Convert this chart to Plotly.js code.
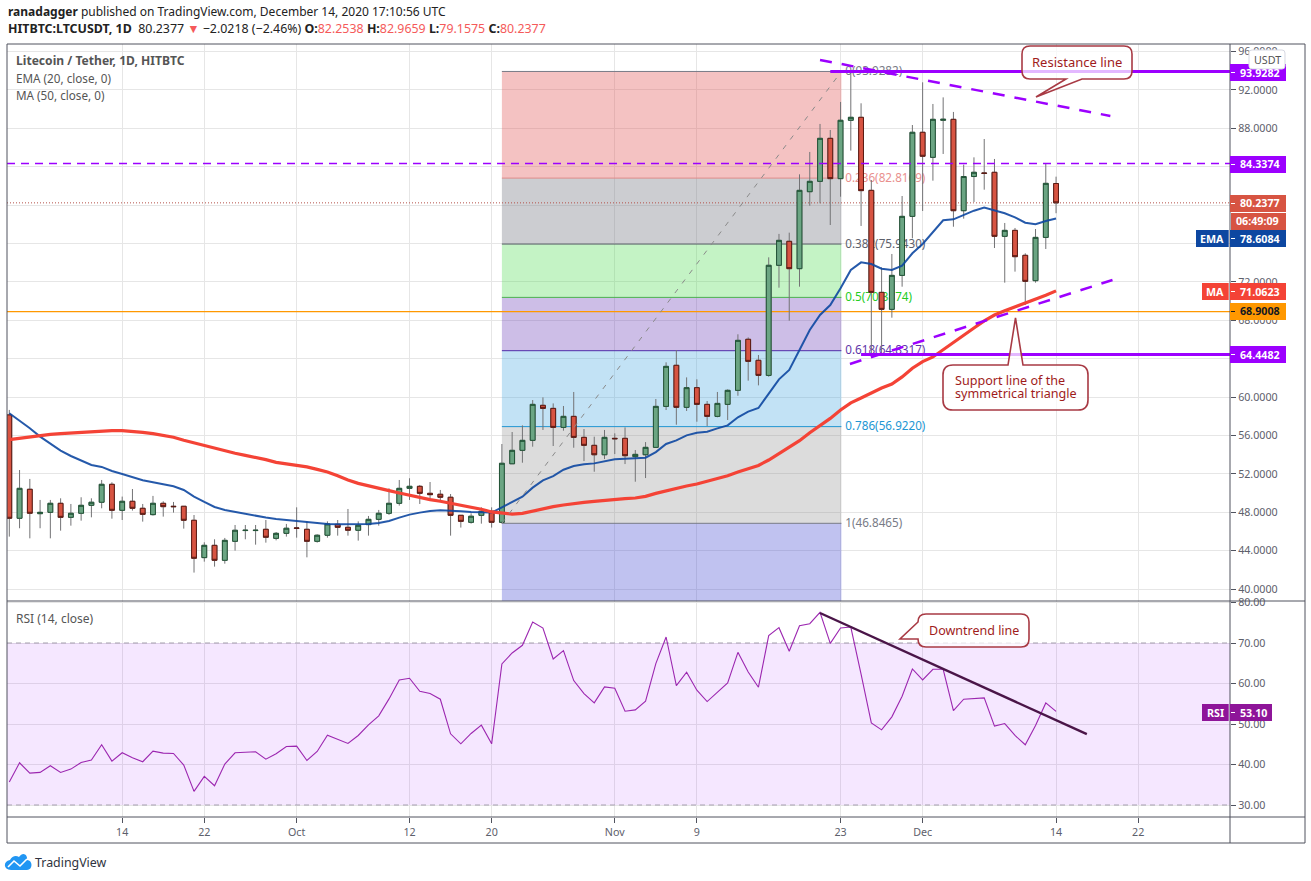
<!DOCTYPE html>
<html>
<head>
<meta charset="utf-8">
<script src="https://cdn.plot.ly/plotly-3.0.1.min.js"></script>
<style>html,body{margin:0;padding:0;background:#fff}#chart{width:1311px;height:881px}</style>
</head>
<body>
<div id="chart"></div>
<script>
const dates = ["2020-09-03","2020-09-04","2020-09-05","2020-09-06","2020-09-07","2020-09-08","2020-09-09","2020-09-10","2020-09-11","2020-09-12","2020-09-13","2020-09-14","2020-09-15","2020-09-16","2020-09-17","2020-09-18","2020-09-19","2020-09-20","2020-09-21","2020-09-22","2020-09-23","2020-09-24","2020-09-25","2020-09-26","2020-09-27","2020-09-28","2020-09-29","2020-09-30","2020-10-01","2020-10-02","2020-10-03","2020-10-04","2020-10-05","2020-10-06","2020-10-07","2020-10-08","2020-10-09","2020-10-10","2020-10-11","2020-10-12","2020-10-13","2020-10-14","2020-10-15","2020-10-16","2020-10-17","2020-10-18","2020-10-19","2020-10-20","2020-10-21","2020-10-22","2020-10-23","2020-10-24","2020-10-25","2020-10-26","2020-10-27","2020-10-28","2020-10-29","2020-10-30","2020-10-31","2020-11-01","2020-11-02","2020-11-03","2020-11-04","2020-11-05","2020-11-06","2020-11-07","2020-11-08","2020-11-09","2020-11-10","2020-11-11","2020-11-12","2020-11-13","2020-11-14","2020-11-15","2020-11-16","2020-11-17","2020-11-18","2020-11-19","2020-11-20","2020-11-21","2020-11-22","2020-11-23","2020-11-24","2020-11-25","2020-11-26","2020-11-27","2020-11-28","2020-11-29","2020-11-30","2020-12-01","2020-12-02","2020-12-03","2020-12-04","2020-12-05","2020-12-06","2020-12-07","2020-12-08","2020-12-09","2020-12-10","2020-12-11","2020-12-12","2020-12-13","2020-12-14"];
const opens = [58.14,47.37,50.39,47.85,47.99,48.93,47.47,47.89,48.72,49.04,50.91,48.20,49.14,48.41,47.75,48.93,48.62,48.62,47.16,43.27,44.55,42.99,44.97,46.09,46.09,46.22,45.28,45.80,46.36,46.22,44.97,45.60,46.74,46.43,46.12,46.71,47.26,47.89,48.93,50.49,50.70,49.97,49.87,49.56,47.68,46.95,47.68,48.10,46.95,53.05,54.45,55.49,59.14,58.82,56.84,57.99,55.80,54.97,53.99,55.70,55.70,53.79,53.99,54.76,59.03,63.31,58.93,60.98,59.24,57.99,59.24,60.70,66.02,63.83,62.26,73.73,76.23,73.38,81.40,82.48,86.96,82.76,88.84,89.15,81.54,70.91,69.14,72.68,78.83,87.59,84.98,88.84,88.94,79.42,82.98,83.35,83.42,76.75,77.37,74.77,72.13,76.64,82.2538];
const highs = [58.66,52.40,51.47,49.28,49.28,49.45,48.86,49.56,49.45,51.36,51.12,49.63,50.42,48.86,49.70,49.14,49.07,48.62,47.71,44.87,45.18,45.32,46.67,46.67,46.67,47.19,45.94,46.78,48.51,47.05,45.70,47.05,47.19,48.34,47.05,47.61,48.24,50.49,51.36,51.54,50.84,51.15,50.32,49.90,47.68,47.89,48.51,48.51,55.11,56.36,57.05,59.69,59.97,59.34,59.07,60.53,56.67,55.87,56.57,56.22,56.84,54.48,55.31,59.80,63.62,64.90,62.05,61.85,59.59,60.53,60.80,66.54,66.22,64.38,74.56,77.00,77.13,83.21,85.54,88.46,87.83,90.75,93.90,90.61,82.62,73.52,74.91,80.95,88.35,92.80,90.54,91.23,89.71,84.22,84.98,86.89,84.81,78.14,77.62,74.98,77.51,84.36,82.9659];
const lows = [45.46,46.33,45.28,46.33,45.28,46.08,46.60,47.12,47.47,48.41,47.33,47.19,48.17,47.02,47.65,47.54,47.96,46.29,41.71,42.85,42.33,42.64,44.00,45.18,44.62,44.83,45.07,45.46,45.35,43.30,44.83,45.35,45.56,45.56,45.04,45.56,46.60,47.72,48.69,49.28,48.86,49.21,49.07,45.56,46.40,46.81,46.81,46.40,46.85,53.05,53.16,54.83,56.57,54.90,56.50,54.72,53.33,52.22,53.54,54.06,53.02,51.18,51.56,54.72,58.65,57.12,58.55,57.43,56.98,57.89,57.61,60.14,61.71,61.22,62.12,71.40,67.96,71.50,79.94,80.19,77.93,80.88,85.68,77.83,64.30,64.45,68.27,71.50,76.54,79.39,82.55,85.33,77.75,78.59,80.33,81.61,75.53,71.92,73.07,69.59,71.92,75.43,79.1575];
const closes = [47.37,50.49,47.89,47.99,48.93,47.47,47.89,48.72,49.04,50.91,48.20,49.14,48.41,47.78,48.93,48.58,48.58,47.16,43.20,44.55,42.99,45.07,46.12,46.12,46.12,45.39,45.80,46.33,46.33,44.97,45.60,46.78,46.43,46.12,46.64,47.26,47.89,48.93,50.49,50.70,49.97,49.83,49.56,47.68,47.05,47.58,48.10,46.95,53.10,54.45,55.49,59.24,58.82,56.84,57.99,55.80,54.97,53.99,55.80,55.66,53.89,54.03,54.76,59.03,63.20,58.93,60.98,59.24,57.99,59.34,60.70,65.91,63.72,62.26,73.73,76.33,73.38,81.54,82.48,86.96,82.76,88.84,89.15,81.51,70.91,69.14,72.68,78.83,87.59,85.09,88.94,88.94,79.42,82.98,83.42,83.31,76.75,77.37,74.63,72.06,76.64,82.27,80.2377];
const ema20 = [58.31,57.55,56.75,55.88,55.11,54.42,53.86,53.38,52.93,52.72,52.30,51.99,51.64,51.33,51.12,50.91,50.70,50.32,49.63,49.07,48.55,48.24,48.03,47.85,47.65,47.44,47.30,47.19,47.12,46.95,46.85,46.78,46.74,46.74,46.74,46.78,46.88,47.09,47.44,47.75,47.96,48.13,48.20,48.17,48.10,48.03,47.99,47.96,48.50,49.06,49.62,50.56,51.32,51.77,52.43,52.81,52.99,53.09,53.30,53.51,53.58,53.61,53.68,54.27,55.11,55.49,56.01,56.29,56.39,56.74,57.05,57.89,58.48,58.86,60.39,61.85,62.82,64.90,66.99,68.55,69.59,71.33,73.24,74.04,73.86,73.38,73.24,73.69,74.98,75.95,77.24,78.42,78.52,78.97,79.42,79.74,79.42,79.15,78.73,78.17,78.00,78.35,78.6084];
const ma50 = [55.57,55.71,55.84,56.02,56.12,56.19,56.26,56.33,56.40,56.50,56.50,56.50,56.43,56.33,56.19,56.02,55.81,55.50,55.22,54.94,54.66,54.38,54.14,53.93,53.72,53.48,53.20,53.06,52.93,52.72,52.47,52.20,51.81,51.36,51.01,50.74,50.46,50.25,50.01,49.76,49.49,49.31,49.14,48.93,48.76,48.58,48.31,48.03,47.90,47.80,47.88,48.12,48.37,48.58,48.75,48.92,49.03,49.13,49.24,49.34,49.41,49.48,49.65,49.96,50.24,50.49,50.73,50.94,51.22,51.46,51.81,52.19,52.54,52.88,53.44,54.10,54.72,55.45,56.29,57.02,57.78,58.65,59.40,59.90,60.43,60.95,61.36,62.10,63.00,63.70,64.18,64.96,65.74,66.47,67.20,67.93,68.55,69.00,69.39,69.75,70.20,70.60,71.0623];
const rsi = [35.67,40.43,37.88,38.05,39.69,38.05,38.87,40.51,41.09,44.87,40.84,42.90,41.66,40.68,43.31,42.81,42.73,39.86,33.37,37.06,34.76,40.10,42.90,42.98,43.14,41.33,42.65,44.46,44.54,41.00,43.22,47.25,46.18,45.19,47.17,49.79,52.01,56.20,60.88,61.29,58.09,57.52,56.12,47.58,45.11,47.66,49.71,45.11,64.83,67.54,69.43,75.17,73.70,66.06,68.11,60.72,57.52,55.22,59.16,58.83,53.16,53.49,55.63,64.91,71.48,59.49,62.77,58.34,55.54,57.84,60.14,67.70,62.85,59.08,71.81,73.78,67.95,74.27,74.76,77.56,69.92,73.70,73.94,62.30,50.29,48.56,51.77,56.86,63.59,60.88,63.51,63.51,53.33,56.12,56.37,56.45,49.47,50.12,47.17,44.87,49.63,55.20,53.10];

const priceTicks = [40,44,48,52,56,60,64,68,72,76,80,84,88,92,96];
const priceTickText = ["40.0000","44.0000","48.0000","52.0000","56.0000","60.0000","","68.0000","72.0000","","","","88.0000","92.0000","96.0000"];
const rsiTicks = [30,40,50,60,70,80];
const rsiTickText = ["30.00","40.00","50.00","60.00","70.00","80.00"];
const timeTickVals = ["2020-09-14","2020-09-22","2020-10-01","2020-10-12","2020-10-20","2020-11-01","2020-11-09","2020-11-23","2020-12-01","2020-12-14","2020-12-22"];
const timeTickText = ["14","22","Oct","12","20","Nov","9","23","Dec","14","22"];
const xRange = ["2020-09-02 18:37","2020-12-30 22:48"];
const priceRange = [38.75,96.79];
const rsiRange = [27.04,80.37];

const fibRatios = ["0","0.236","0.382","0.5","0.618","0.786","1"];
const fibValues = [93.9282,82.8169,75.9430,70.3874,64.8317,56.9220,46.8465];
const fibLines = ["#787b86","#e08c8a","#5d606b","#4caf50","#512da8","#2196d3","#787b86"];
const fibText = ["#787b86","#e9908e","#5d606b","#22cc22","#5e35a8","#2196d3","#787b86"];
const fibFills = ["rgba(224,80,80,.35)","rgba(120,123,134,.38)","rgba(76,220,80,.33)","rgba(104,58,183,.33)","rgba(66,165,224,.32)","rgba(130,130,130,.28)","rgba(63,70,210,.33)"];
const fibDates = ["2020-10-21","2020-11-23 02:00"];
const fibLabelDates = ["2020-11-23 11:00","2020-12-05"];

const resistanceDates = ["2020-11-21","2020-12-19 07:00"];
const resistanceVals = [95.13,89.29];
const supportDates = ["2020-11-23 22:00","2020-12-19 12:00"];
const supportVals = [63.45,72.2];
const downDates = ["2020-11-21","2020-12-17"];
const downVals = [77.4,47.5];
const level94Dates = ["2020-11-22",xRange[1]];
const level64Dates = ["2020-11-25",xRange[1]];
const level94 = 93.9282, level64 = 64.4482, level84 = 84.3374, level69 = 68.9008, lastClose = 80.2377;

const PL=7, PR=1230, PT=44, PB=817, SEP=601;
const px = x => (x-PL)/(PR-PL);
const py = y => (PB-y)/(PB-PT);
function P(str){ // path given in page pixels
  let isX=true;
  return str.trim().split(/\s+/).map(t=>{
    if(/^[A-Za-z]$/.test(t)){isX=true;return t;}
    const v=isX?px(+t):py(+t); isX=!isX; return v.toFixed(5);
  }).join(' ');
}
const FONT='"Noto Sans", sans-serif';
const TXT='#555';
const hid={hoverinfo:'skip',showlegend:false};

const bodyHigh = opens.map((o,i)=>Math.max(o,closes[i]));
const bodyLow = opens.map((o,i)=>Math.min(o,closes[i]));
const traces = [
  {type:'candlestick',x:dates,open:opens,high:highs,low:lows,close:closes,xaxis:'x',yaxis:'y',whiskerwidth:0,
   increasing:{line:{color:'#737375',width:1},fillcolor:'rgba(0,0,0,0)'},decreasing:{line:{color:'#737375',width:1},fillcolor:'rgba(0,0,0,0)'},...hid},
  {type:'candlestick',x:dates,open:opens,high:bodyHigh,low:bodyLow,close:closes,xaxis:'x',yaxis:'y',whiskerwidth:0,
   increasing:{line:{color:'#225437',width:1},fillcolor:'#6ba583'},decreasing:{line:{color:'#5b1a13',width:1},fillcolor:'#d75442'},...hid},
  {type:'scatter',mode:'lines',x:dates,y:ema20,xaxis:'x',yaxis:'y',line:{color:'#0d47a1',width:2},opacity:.9,...hid},
  {type:'scatter',mode:'lines',x:dates,y:ma50,xaxis:'x',yaxis:'y',line:{color:'#f44336',width:3.2},...hid},
  {type:'scatter',mode:'lines',x:fibDates,y:[fibValues[6],fibValues[0]],xaxis:'x',yaxis:'y',line:{color:'#8a8a8a',width:1,dash:'5px,7px'},...hid},
  {type:'scatter',mode:'lines',x:xRange,y:[level84,level84],xaxis:'x',yaxis:'y',line:{color:'#9c00ff',width:1.4,dash:'8px,6px'},...hid},
  {type:'scatter',mode:'lines',x:level94Dates,y:[level94,level94],xaxis:'x',yaxis:'y',line:{color:'#9c00ff',width:3},...hid},
  {type:'scatter',mode:'lines',x:level64Dates,y:[level64,level64],xaxis:'x',yaxis:'y',line:{color:'#9c00ff',width:3},...hid},
  {type:'scatter',mode:'lines',x:resistanceDates,y:resistanceVals,xaxis:'x',yaxis:'y',line:{color:'#9c00ff',width:2.5,dash:'12px,10px'},...hid},
  {type:'scatter',mode:'lines',x:supportDates,y:supportVals,xaxis:'x',yaxis:'y',line:{color:'#9c00ff',width:2.5,dash:'12px,10px'},...hid},
  {type:'scatter',mode:'lines',x:dates,y:rsi,xaxis:'x',yaxis:'y2',line:{color:'#9c27b0',width:1.1},...hid},
  {type:'scatter',mode:'lines',x:downDates,y:downVals,xaxis:'x',yaxis:'y2',line:{color:'#4a1548',width:2.4},...hid},
];

const shapes=[];
// fib zones
fibFills.forEach((c,i)=>{
  shapes.push({type:'rect',layer:'between',xref:'x',yref:'y',x0:fibDates[0],x1:fibDates[1],
    y0:i<6?fibValues[i+1]:priceRange[0],y1:fibValues[i],fillcolor:c,line:{width:0}});
});
fibValues.forEach((v,i)=>{
  shapes.push({type:'line',layer:'between',xref:'x',yref:'y',x0:fibDates[0],x1:fibDates[1],y0:v,y1:v,line:{color:fibLines[i],width:1}});
  shapes.push({type:'line',layer:'between',xref:'x',yref:'y',x0:fibLabelDates[0],x1:fibLabelDates[1],y0:v,y1:v,line:{color:'rgba(0,0,0,0)',width:0},
    label:{text:fibRatios[i]+'('+v.toFixed(4)+')',textposition:'start',xanchor:'left',yanchor:'middle',padding:3,font:{family:FONT,size:11.7,color:fibText[i]}}});
});
shapes.push({type:'line',layer:'between',xref:'x',yref:'y',x0:xRange[0],x1:xRange[1],y0:lastClose,y1:lastClose,line:{color:'#b5524a',width:1,dash:'1px,2px'}});
shapes.push({type:'line',layer:'between',xref:'x',yref:'y',x0:xRange[0],x1:xRange[1],y0:level69,y1:level69,line:{color:'#ff9800',width:1.2}});
// RSI band
shapes.push({type:'rect',layer:'between',xref:'x',yref:'y2',x0:xRange[0],x1:xRange[1],y0:30,y1:70,fillcolor:'rgba(153,21,255,.1)',line:{width:0}});
[30,70].forEach(v=>shapes.push({type:'line',layer:'between',xref:'x',yref:'y2',x0:xRange[0],x1:xRange[1],y0:v,y1:v,line:{color:'#a59fae',width:1,dash:'5px,4px'}}));

// frame
const frame='#50535e';
[[PL,44,1305,44],[PL,SEP,1305,SEP],[PL,PB,1305,PB],[PL,843,1305,843],[PL,44,PL,843],[PR,44,PR,843],[1305,44,1305,843]].forEach(a=>{
  shapes.push({type:'line',layer:'above',xref:'paper',yref:'paper',x0:px(a[0]),x1:px(a[2]),y0:py(a[1]),y1:py(a[3]),line:{color:frame,width:1}});
});
// callouts
const calloutLine={color:'#a83a44',width:1.6};
const calloutFill='rgba(255,255,255,.72)';
function callout(d){shapes.push({type:'path',layer:'above',xref:'paper',yref:'paper',path:P(d),fillcolor:calloutFill,line:calloutLine});}
callout('M 1030 46 L 1124 46 Q 1132 46 1132 54 L 1132 71 Q 1132 79 1124 79 L 1082 79 L 1036 97 L 1066 79 L 1030 79 Q 1022 79 1022 71 L 1022 54 Q 1022 46 1030 46 Z');
callout('M 953 365 L 1008 365 L 1015.5 318 L 1023 365 L 1078 365 Q 1088 365 1088 375 L 1088 400 Q 1088 410 1078 410 L 953 410 Q 943 410 943 400 L 943 375 Q 943 365 953 365 Z');
callout('M 926 614 L 1021 614 Q 1029 614 1029 622 L 1029 639 Q 1029 647 1021 647 L 926 647 Q 918 647 918 639 L 900 639 L 918 622 Q 918 614 926 614 Z');

const annotations=[];
function txt(x,y,text,color,size,anchor,extra){
  annotations.push(Object.assign({xref:'paper',yref:'paper',x:px(x),y:py(y),text,showarrow:false,xanchor:anchor||'left',yanchor:'middle',
    font:{family:FONT,size:size||12,color:color||TXT},align:'left',borderpad:0},extra||{}));
}
function rect(x0,y0,x1,y1,color){shapes.push({type:'rect',layer:'above',xref:'paper',yref:'paper',x0:px(x0),x1:px(x1),y0:py(y1),y1:py(y0),fillcolor:color,line:{width:0}});}
function priceLabel(y0,y1,color,text,tcolor,x1){
  rect(PR,y0,x1||1286,y1,color);
  shapes.push({type:'line',layer:'above',xref:'paper',yref:'paper',x0:px(1231),x1:px(1235),y0:py((y0+y1)/2),y1:py((y0+y1)/2),line:{color:tcolor||'#fff',width:1}});
  txt(1238.5,(y0+y1)/2,'<b>'+text+'</b>',tcolor||'#fff',10.7,'left');
}
function nameLabel(x0,y0,y1,color,text){rect(x0,y0,1228.7,y1,color);txt((x0+1228.7)/2,(y0+y1)/2,'<b>'+text+'</b>','#fff',10.7,'center');}

priceLabel(64,81,'#9c00ff','93.9282');
priceLabel(156,173,'#9c00ff','84.3374');
priceLabel(195,212,'#d75442','80.2377');
rect(1231,213,1286,230,'#d75442');txt(1235,221.5,'<b>06:49:09</b>','#fff',10.7,'left');
priceLabel(230,247,'#0d47a1','78.6084');
nameLabel(1196,230,247,'#0d47a1','EMA');
priceLabel(283,300,'#f44336','71.0623');
nameLabel(1202,283,300,'#f44336','MA');
priceLabel(303,320,'#ff9800','68.9008','#131722');
priceLabel(346,363,'#9c00ff','64.4482');
priceLabel(704,721,'#8e1599','53.10','#fff',1272);
nameLabel(1202,704,721,'#8e1599','RSI');

// USDT badge
shapes.push({type:'path',layer:'above',xref:'paper',yref:'paper',path:P('M 1252 50 L 1282 50 Q 1285 50 1285 53 L 1285 66 Q 1285 69 1282 69 L 1252 69 Q 1249 69 1249 66 L 1249 53 Q 1249 50 1252 50 Z'),fillcolor:'#fff',line:{color:'#d6d8e2',width:1}});
txt(1267,59.5,'USDT','#555',10.7,'center');

// callout text
txt(1077,62,'Resistance line','#a01c1c',13,'center');
txt(954,380.5,'Support line of the','#a01c1c',12.6,'left');
txt(954,393,'symmetrical triangle','#a01c1c',12.6,'left');
txt(974,630.5,'Downtrend line','#a01c1c',12.5,'center');

// heading
const R='#f55a5a';
txt(6.5,12,'<b>ranadagger</b> published on TradingView.com, December 14, 2020 17:10:56 UTC','#222',12);
txt(6.5,29,`<b>HITBTC:LTCUSDT, 1D</b>  80.2377 <span style="color:${R}">▼</span> −2.0218 (−2.46%) <b>O:</b><span style="color:${R}">82.2538</span> <b>H:</b><span style="color:${R}">82.9659</span> <b>L:</b><span style="color:${R}">79.1575</span> <b>C:</b><span style="color:${R}">80.2377</span>`,'#222',12.4);
txt(14.5,60.5,'<b>Litecoin / Tether, 1D, HITBTC</b>','#555',12.1);
txt(14.5,77.5,'EMA (20, close, 0)','#555',11.7);
txt(14.5,95,'MA (50, close, 0)','#555',11.7);
txt(14.5,618.5,'RSI (14, close)','#555',12);

// logo
shapes.push({type:'path',layer:'above',xref:'paper',yref:'paper',path:P('M 11 870 C 3 870 3 861 10 860 C 12 856 16 855 19 857 C 23 851 28 855 27 860 C 33 860 33 870 27 870 Z'),fillcolor:'#2196f3',line:{width:0}});
shapes.push({type:'path',layer:'above',xref:'paper',yref:'paper',path:P('M 8 867 L 14 861 L 20 866 L 27 859'),line:{color:'#fff',width:1.6}});
txt(34,863,'TradingView','#2f3340',12.4);

const axisFont={family:FONT,size:10.7,color:'#5d606b'};
const layout={
  width:1311,height:881,autosize:false,margin:{l:PL,r:1311-PR,t:PT,b:881-PB,pad:0},
  paper_bgcolor:'#fff',plot_bgcolor:'#fff',showlegend:false,dragmode:false,hovermode:false,
  boxmode:'overlay',boxgap:0.33,
  xaxis:{domain:[0,1],anchor:'y2',type:'date',range:xRange,tickmode:'array',tickvals:timeTickVals,ticktext:timeTickText,
    ticks:'outside',ticklen:5,tickcolor:'#50535e',tickfont:axisFont,showgrid:true,gridcolor:'#e6e6e6',gridwidth:1,zeroline:false,showline:false,
    rangeslider:{visible:false},fixedrange:true},
  yaxis:{domain:[py(SEP),1],anchor:'x',side:'right',range:priceRange,tickmode:'array',tickvals:priceTicks,ticktext:priceTickText,
    ticks:'outside',ticklen:5,tickcolor:'#50535e',tickfont:axisFont,showgrid:true,gridcolor:'#e6e6e6',gridwidth:1,zeroline:false,showline:false,fixedrange:true},
  yaxis2:{domain:[0,py(SEP)],anchor:'x',side:'right',range:rsiRange,tickmode:'array',tickvals:rsiTicks,ticktext:rsiTickText,
    ticks:'outside',ticklen:5,tickcolor:'#50535e',tickfont:axisFont,showgrid:true,gridcolor:'#e6e6e6',gridwidth:1,zeroline:false,showline:false,fixedrange:true},
  shapes,annotations
};
Plotly.newPlot('chart',traces,layout,{displayModeBar:false,staticPlot:true});
</script>
</body>
</html>
